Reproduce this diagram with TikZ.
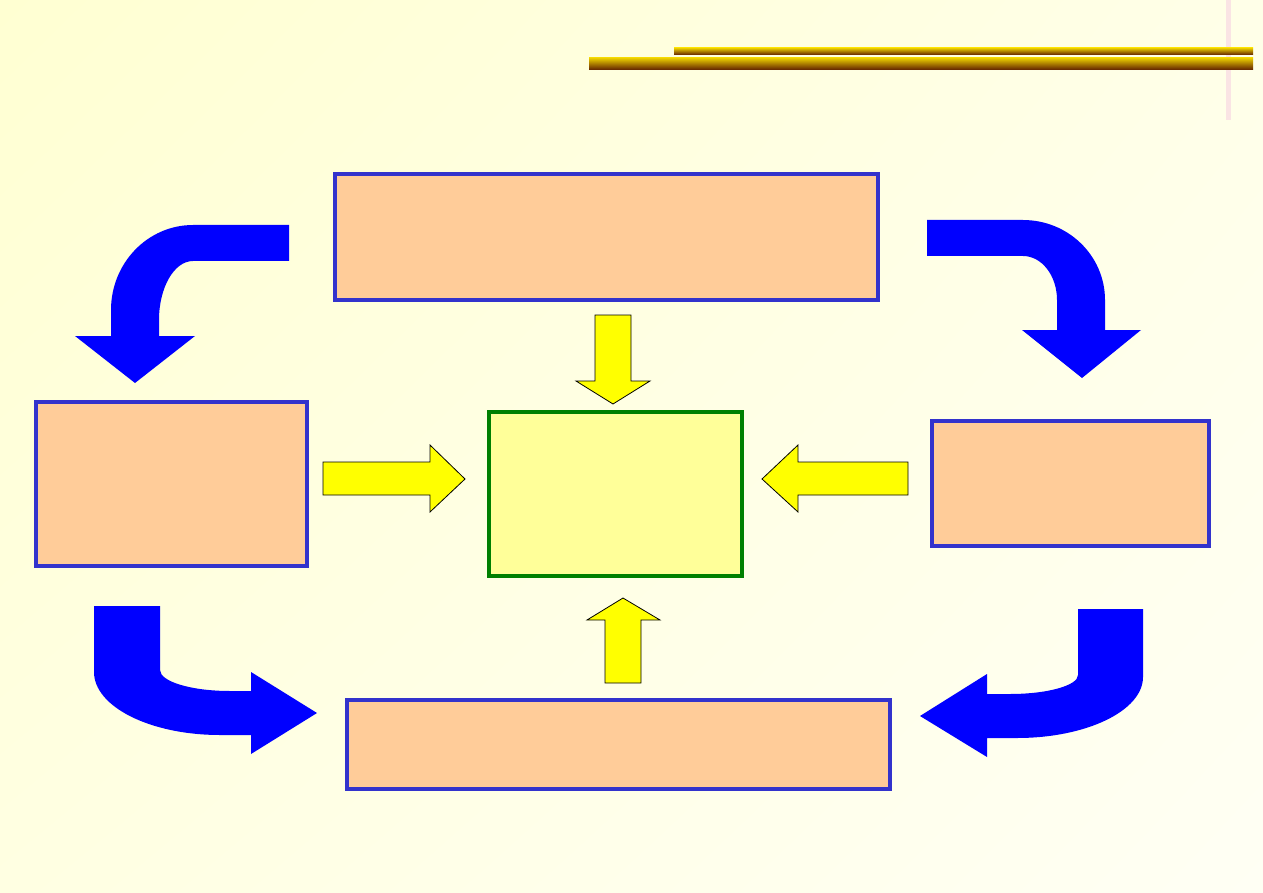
\documentclass[tikz,border=0pt]{standalone}
\usetikzlibrary{calc,shadings}
\definecolor{bgA}{RGB}{255,255,210}
\definecolor{bgB}{RGB}{255,255,232}
\definecolor{bgC}{RGB}{255,255,226}
\definecolor{bgD}{RGB}{255,255,244}
\definecolor{boxblue}{RGB}{51,51,204}
\definecolor{peach}{RGB}{255,204,153}
\definecolor{ctrgreen}{RGB}{0,128,0}
\definecolor{ctrfill}{RGB}{255,255,153}
\definecolor{goldtop}{RGB}{235,205,0}
\definecolor{goldbot}{RGB}{95,30,0}
\definecolor{pinkline}{RGB}{250,228,228}
\definecolor{arrowblue}{RGB}{0,0,255}
\definecolor{arrowyellow}{RGB}{255,255,0}
\tikzset{
  box/.style={draw=boxblue, fill=peach, line width=4pt, inner sep=0pt, outer sep=0pt},
  ctrbox/.style={draw=ctrgreen, fill=ctrfill, line width=4pt, inner sep=0pt, outer sep=0pt},
  yarrow/.style={draw=black, fill=arrowyellow, line width=0.8pt, line join=miter},
  barrow/.style={fill=arrowblue, draw=none},
  goldbar/.style={top color=goldtop, bottom color=goldbot}
}
\begin{document}
\begin{tikzpicture}[x=1pt,y=-1pt]
\useasboundingbox (0,0) rectangle (1263,893);
% background
\shade[upper left=bgA, upper right=bgB, lower left=bgC, lower right=bgD] (0,0) rectangle (1263,893);
% decorative lines
\fill[pinkline] (1226,0) rectangle (1231,120);
\shade[goldbar] (674,48) rectangle (1253,55);
\shade[goldbar] (589,58) rectangle (1253,70);
% boxes
\node[box, minimum width=543pt, minimum height=126pt] (top) at (606.5,237) {};
\node[box, minimum width=271pt, minimum height=164pt] (left) at (171.5,484) {};
\node[box, minimum width=277pt, minimum height=125pt] (right) at (1070.5,483.5) {};
\node[box, minimum width=543pt, minimum height=89pt] (bottom) at (618.5,744.5) {};
\node[ctrbox, minimum width=253pt, minimum height=164pt] (center) at (615.5,494) {};
% yellow arrows
\draw[yarrow] (595,315) -- (631,315) -- (631,381) -- (650,381) -- (613,404) -- (576,381) -- (595,381) -- cycle;
\draw[yarrow] (323,462) -- (430,462) -- (430,445) -- (465,479) -- (430,512) -- (430,495) -- (323,495) -- cycle;
\draw[yarrow] (908,462) -- (798,462) -- (798,445) -- (762,479) -- (798,512) -- (798,495) -- (908,495) -- cycle;
\draw[yarrow] (605,683) -- (641,683) -- (641,620) -- (660,620) -- (623,598) -- (587,620) -- (605,620) -- cycle;
% blue curved arrows
\fill[barrow] (289,225) -- (193,225) arc[start angle=90, end angle=180, x radius=82, y radius=-85] -- (111,336) -- (75,336) -- (135,383) -- (195,336) -- (159,336) -- (159,320) arc[start angle=180, end angle=90, x radius=34, y radius=-59] -- (289,261) -- cycle;
\fill[barrow] (927,220) -- (1023,220) arc[start angle=90, end angle=0, x radius=82, y radius=-80] -- (1105,330) -- (1141,330) -- (1082,378) -- (1022,330) -- (1057,330) -- (1057,300) arc[start angle=0, end angle=90, x radius=34, y radius=-44] -- (927,256) -- cycle;
\fill[barrow] (94,606) -- (94,672) arc[start angle=180, end angle=270, x radius=126, y radius=-63] -- (251,735) -- (251,754) -- (317,713) -- (251,672) -- (251,691) -- (230,691) arc[start angle=270, end angle=180, x radius=70, y radius=-21] -- (160,606) -- cycle;
\fill[barrow] (1143,609) -- (1143,677) arc[start angle=0, end angle=-90, x radius=126, y radius=-61] -- (987,738) -- (987,757) -- (920,716) -- (987,674) -- (987,694) -- (1010,694) arc[start angle=-90, end angle=0, x radius=68, y radius=-19] -- (1078,609) -- cycle;
\end{tikzpicture}
\end{document}
